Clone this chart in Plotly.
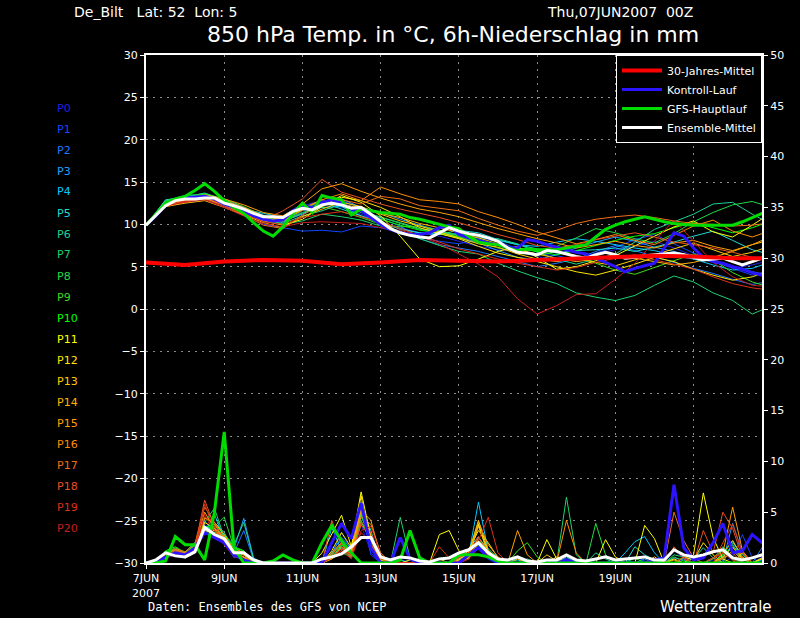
import plotly.graph_objects as go

# forecast hours (7JUN2007 00Z = 0)
hours6 = list(range(0, 385, 6))
hours12 = list(range(0, 385, 12))
hours24 = list(range(0, 385, 24))

tick_hours = [0, 48, 96, 144, 192, 240, 288, 336]
tick_labels = ["7JUN<br>2007", "9JUN", "11JUN", "13JUN", "15JUN", "17JUN", "19JUN", "21JUN"]

member_names = ["P%d" % i for i in range(21)]
member_colors = ["#2020e6", "#1046ff", "#1e78ff", "#1ea0ff", "#00c8ff", "#1edcd2", "#1ed296",
                 "#1ed26e", "#1edc46", "#3cdc1e", "#00ff00", "#ffff00", "#ffe600", "#ffcd00",
                 "#ffb400", "#ffa000", "#ff8c00", "#f06e14", "#e65020", "#dc3219", "#c81e1e"]

# 850 hPa temperature of ensemble members, 12h steps
temp_members = [
    [9.9,12.6,12.9,13.2,12.4,11.5,10.4,10.8,12.2,12.8,12.0,11.2,10.2,9.6,9.0,8.6,8.0,7.4,7.0,6.8,6.2,5.6,5.9,6.5,7.0,7.4,8.0,7.2,6.3,5.6,4.8,5.2,5.8],
    [9.9,12.3,12.6,12.9,12.1,11.0,10.0,9.6,9.2,9.3,9.1,9.8,9.6,9.0,8.5,8.0,7.7,8.3,8.0,7.1,6.5,6.3,5.8,6.6,7.3,8.2,8.8,7.7,6.6,5.8,4.8,4.0,4.6],
    [9.9,12.8,13.1,13.0,12.5,11.6,10.6,10.2,11.6,12.2,12.8,11.9,10.7,9.8,8.3,7.6,7.2,6.8,6.2,5.6,5.0,5.4,5.9,6.8,7.5,6.9,6.2,5.5,4.8,4.2,3.5,2.9,3.3],
    [9.9,12.5,12.7,13.5,12.9,12.0,11.1,10.4,11.2,12.4,13.0,12.0,11.4,10.6,9.9,9.3,8.4,7.8,6.9,6.1,5.8,6.4,7.2,7.9,8.5,8.0,7.3,6.8,6.2,5.5,5.0,4.4,3.9],
    [9.9,12.7,13.3,13.4,12.7,11.9,10.9,10.3,11.3,12.0,12.1,11.0,10.3,9.4,9.0,8.8,8.9,8.6,8.1,7.6,7.4,7.9,8.3,8.0,7.6,7.2,6.9,6.3,5.9,5.2,4.6,4.8,5.6],
    [9.9,12.9,13.2,13.7,12.9,11.8,11.3,10.8,11.9,12.6,11.8,11.0,10.1,9.5,9.0,8.8,9.3,9.0,8.2,7.6,7.1,6.6,6.9,7.0,7.2,6.8,7.3,7.9,8.6,9.2,8.1,7.0,6.4],
    [9.9,12.4,12.9,13.2,12.3,11.3,10.5,10.1,11.0,11.6,12.4,11.6,10.8,10.2,9.5,9.2,8.7,8.4,8.3,7.7,6.7,5.9,5.3,5.9,6.5,7.9,9.4,10.3,11.2,12.4,12.6,11.2,10.0],
    [9.9,12.6,13.0,13.4,12.5,11.5,10.7,10.0,10.4,11.2,10.9,10.5,9.8,9.2,8.3,7.5,6.8,6.5,5.4,4.5,3.7,3.0,1.9,1.4,1.0,1.6,2.8,3.9,3.2,1.9,1.0,-0.6,0.4],
    [9.9,12.8,13.4,13.6,13.0,12.1,11.0,10.6,11.9,12.5,12.3,11.4,10.9,10.1,9.4,8.9,8.4,8.0,7.6,7.2,6.9,7.4,8.4,9.5,9.0,8.3,7.8,8.9,10.3,11.4,12.3,12.7,12.0],
    [9.9,12.5,13.2,13.3,12.6,11.7,10.6,10.3,11.4,12.1,11.5,10.8,10.0,9.7,9.8,9.3,8.6,7.9,7.2,6.7,6.3,6.8,6.2,5.4,4.6,4.1,4.9,5.7,6.5,5.8,4.3,3.2,2.5],
    [9.9,12.6,13.0,13.6,12.9,11.8,10.8,10.4,11.8,12.7,12.2,11.5,10.6,9.9,9.3,9.0,8.5,8.2,7.6,7.1,6.8,6.4,6.9,7.5,8.1,8.6,8.9,9.6,10.2,9.6,9.0,9.6,10.4],
    [9.9,12.2,12.6,13.0,12.3,11.2,10.4,9.9,10.6,12.1,13.4,12.6,11.0,8.6,5.9,5.0,5.1,5.9,6.8,7.4,6.1,4.7,5.0,5.7,6.3,7.5,8.6,9.7,10.4,9.1,8.5,9.9,11.4],
    [9.9,12.4,12.9,13.3,12.6,11.6,10.7,10.4,11.7,12.5,13.2,12.8,12.0,10.9,9.6,8.9,8.3,7.4,6.6,6.1,5.6,5.0,4.4,4.0,4.6,5.3,6.1,5.6,4.7,4.0,3.4,3.8,4.6],
    [9.9,12.1,12.5,12.8,12.0,11.1,10.2,9.6,10.9,11.8,12.6,12.1,11.2,10.4,9.8,9.1,8.4,7.7,7.3,6.5,5.9,5.6,6.0,5.5,5.1,5.8,6.4,7.1,7.8,7.0,6.2,6.7,7.5],
    [9.9,12.3,12.8,13.1,12.4,11.8,10.9,10.6,11.9,12.9,12.4,11.9,11.3,10.8,10.1,9.6,9.0,8.4,7.7,7.0,6.5,6.0,5.6,5.9,6.4,6.0,5.6,5.2,5.5,6.1,6.8,7.6,8.2],
    [9.9,12.2,12.9,13.5,13.0,12.3,11.4,11.0,12.4,14.2,14.8,13.9,13.1,12.4,11.8,11.4,10.9,10.2,9.5,8.9,8.3,7.8,7.2,7.6,8.0,7.5,7.2,7.8,8.1,7.4,6.9,7.6,8.6],
    [9.9,12.4,13.0,13.4,12.8,12.0,11.0,10.6,11.7,12.9,13.6,12.8,14.4,13.6,12.9,12.7,12.4,11.5,10.8,10.0,9.1,8.4,7.7,8.2,8.8,8.1,7.6,8.7,9.8,10.5,9.2,8.5,9.3],
    [9.9,12.1,12.7,13.2,12.2,11.1,9.9,9.5,11.1,12.3,12.9,12.4,13.3,13.0,12.2,11.9,11.6,10.7,9.9,9.2,8.7,9.3,10.1,10.6,10.9,11.1,10.8,10.4,10.1,10.0,9.8,9.9,10.2],
    [9.9,12.3,12.8,13.2,12.4,11.4,10.5,11.6,13.0,15.3,13.8,13.1,12.4,11.8,11.3,10.8,10.2,9.5,8.8,8.2,7.5,7.2,7.6,8.2,8.6,9.0,8.5,7.9,7.6,7.2,6.7,6.1,5.8],
    [9.9,12.5,12.7,13.0,12.1,11.3,10.3,10.0,10.8,11.2,11.5,10.9,10.3,9.5,8.7,7.9,7.1,6.5,5.9,5.4,5.0,4.6,4.9,5.5,6.0,6.4,5.8,5.3,4.7,3.8,3.0,2.5,2.2],
    [9.9,12.2,12.6,12.9,12.0,11.0,10.1,9.7,10.2,10.3,10.2,10.1,9.6,9.3,8.6,7.7,6.5,5.3,3.8,1.2,-0.6,0.4,1.7,1.8,3.5,5.4,8.0,10.5,8.0,5.5,3.8,2.8,2.6],
]

# 6h precipitation of ensemble members (mm), 6h steps
precip_members = [
    [0,0,0.8,1.0,0.6,1.2,3.8,3.0,2.4,0.8,0.6,0, 0,0,0,0,0,0, 0.3,1.5,2.2,0.6,3.8,1.0,0,0, 0.4,0,0,0,0,0, 0.4,1.0,2.0,0.7,0.2,0,0,0, 0,0,0,0.5,0.2,0,0,0, 0,0.4,0,0,0,0,1.2,0.5, 0,0,0.3,1.0,0.3,0,0,0.6,1.5],
    [0,0,0.6,0.9,0.5,1.0,3.2,3.6,2.0,0.5,0.9,0.2, 0,0,0,0,0,0, 0,0.8,3.0,1.2,5.8,0.8,0,0, 0,0.3,0,0,0,0, 0.3,0.8,1.6,0.5,0,0,0,0, 0,0.2,0,0.3,0,0,0,0, 0,0,0.6,0.2,0,0,0,0.4, 0,0,0,0,0.6,2.8,0.5,0,0.4],
    [0,0,0.9,1.1,0.8,1.3,4.2,2.8,2.2,1.0,3.2,0.3, 0,0,0,0,0,0, 0,0.6,1.5,0.8,5.0,2.0,0,0, 0,0,0.5,0,0,0, 0,0.6,1.8,1.2,0.4,0,0,0, 0,0,0.2,0.4,0,0,0,0, 0.3,0,0,0,0,0,0.5,0.3, 0,0,0.5,1.4,0.5,0,0,1.5,2.6],
    [0,0,0.7,1.3,0.9,1.6,3.5,3.4,2.6,1.4,4.4,0.5, 0,0,0,0,0,0, 0,1.0,2.5,1.4,4.5,2.8,0.6,0, 0,0,0,0,0,0, 0.6,1.4,2.6,1.0,0.3,0,0,0, 0,0,0,0,0,0,0,0, 0,0,0,0.4,0,0,0,0, 0.5,0,0,0.2,3.9,1.0,0,0,0.5],
    [0,0,1.0,1.2,0.7,1.4,3.0,4.8,2.3,0.8,0.6,0, 0,0,0,0,0,0, 0,3.5,1.2,0.5,6.0,1.5,0,0, 0,0,0,0,0,0, 0.4,0.8,6.0,1.2,0.3,0,0.5,0, 0,0,0,0,0.2,0,0,0, 0,1.0,2.1,2.6,1.0,0,0,0, 0,0,0,0.4,1.2,0.3,0,0.3,2.0],
    [0,0,0.8,1.0,0.9,1.8,2.8,4.0,3.0,1.2,0.8,0.2, 0,0,0,0,0,0, 0,0.5,1.8,0.8,5.5,3.2,0,0, 0.3,0,0,0,0,0, 0.3,1.2,3.8,0.8,0,0,0.3,0, 0,0,0,0,0,0,0,0, 0,0,1.6,0.8,0.3,0,0,0, 0,0,0,0.6,1.8,0.5,0,0,0.8],
    [0,0,0.9,1.4,1.1,2.0,3.6,3.3,2.8,1.8,4.0,0.4, 0,0,0,0,0,0, 0,0.8,2.0,1.0,4.0,2.4,0,0, 0,0,0,0,0,0, 0,0.6,2.5,1.4,0.5,0,0,0.4, 0,0,0,0.6,0,0,1.0,0.4, 0,0,0,0,0,0,0,0.5, 0.4,1.5,0.5,0,2.0,0.8,0,0,0.6],
    [0,0,1.1,1.3,1.0,1.6,4.0,5.4,2.5,1.0,0.8,0, 0,0,0,0,0,0, 0,0.6,1.4,0.6,5.2,1.6,0,0, 4.5,0.5,0,0,0,0, 0,0.5,1.5,0.6,0,0,0,0, 0,0,0,6.5,0.8,0,0,0, 0,0,0,0,0.3,0,0.8,0.6, 0,0,0,0.8,2.2,0.5,0,0,0],
    [0,0,0.9,1.2,0.8,1.5,3.0,3.6,4.5,1.5,1.2,0.2, 0,0,0,0,0,0, 0,0.4,1.0,0.6,4.8,1.8,0.3,0, 0,0,0,0,0,0, 0.2,0.8,1.8,0.5,0,0,0,0, 0,0,0,0,0,0,3.9,0.8, 0,0,0,0,0,0,0.6,0.2, 0,0,0.4,1.6,0.6,0,0,0,0.8],
    [0,0,1.0,1.5,1.0,1.7,3.4,3.0,2.6,1.5,1.0,0, 0,0,0,0,0,0, 0,0.6,1.6,0.8,4.2,2.0,0,0, 0,0,0,0,0,0, 0,0.5,2.0,1.0,0.4,0,1.2,2.0, 0.6,0,0,0,0,0,0,0, 0,0,0,0,0,0,0,0, 0,0,0.5,1.2,0.3,0,0,0,0],
    [0,0,1.2,1.6,1.0,1.8,3.5,3.8,2.8,1.6,1.2,0, 0,0,0,0,0,0, 0,0.8,1.8,1.0,5.0,2.2,0.5,0, 0,0,0,0,0,0, 0,1.0,2.2,1.3,0.3,0,0,0, 0,0,0,0,0,0,0,0, 0,0,0.5,0,0,0,0,0, 0,0,0,0.8,1.5,0.5,0,0,0.3],
    [0,0,0.7,1.0,0.6,1.2,3.0,3.2,2.0,0.8,0.5,0, 0,0,0,0,0,0, 1.0,2.8,4.7,1.6,7.0,2.6,0,0, 0,0,0,0,2.8,3.2, 1.2,0.4,3.8,1.0,0,0,0,0, 0,2.3,0.4,0,0,0,0,2.3, 0.6,0,0,3.7,2.4,0,0.4,0, 0.8,6.9,2.5,0.4,0,0,0,0.5,1.2],
    [0,0,0.8,1.1,0.7,1.3,4.0,3.4,2.4,1.0,0.5,0, 0,0,0,0,0,0, 0,1.2,3.0,1.5,6.6,1.4,0,0, 0,0.3,0,0,0,0, 0.5,1.2,3.2,2.0,0.5,0,0,0, 0,0,0.6,0,0,0,0,0, 0,0,0,0,0,0,0,0.6, 0.3,2.0,0.8,0,0,1.0,0,0.4,2.5],
    [0,0,0.6,0.9,0.5,1.0,3.2,3.4,2.2,1.0,0.6,0, 0,0,0,0,0,0, 0,1.0,2.0,1.2,5.4,1.8,0.3,0, 0,0,0,0,0.4,0, 0.3,1.0,4.2,1.2,0.4,0,0,0, 0,0.8,0.2,0,0,0,0,0, 0,0,0,0,0.6,0,0,0, 0,0,0,0.6,1.6,0.4,0,0,0.5],
    [0,0,0.7,1.1,0.8,1.4,4.4,4.0,2.8,1.2,0.8,0.2, 0,0,0,0,0,0, 0,0.5,1.6,0.9,5.8,2.6,0,0, 0,0,0,0,0,0, 0.4,1.0,3.6,1.0,0.2,0,0.4,0, 0,0,0,0,0,0,0,0, 0,0,0,0,0,0,0.3,0, 0,0,0.5,1.0,2.2,0.6,0,0,0],
    [0,0,0.8,1.2,0.9,1.7,5.0,3.4,2.6,1.4,1.0,0.2, 0,0,0,0,0,0, 0,0.4,1.2,0.8,5.2,4.2,0.6,0, 0,0,0,0,0,0, 0.2,0.6,4.0,1.8,0.6,0,3.2,0.8, 0,0,0,0,0,0,0,0, 0,0,0,0,0,0,0,0, 0,0,0,1.0,5.5,1.2,0,0,3.4],
    [0,0,0.9,1.3,1.0,1.5,4.5,3.8,2.4,1.2,0.8,0, 0,0,0,0,0,0, 0,0.6,1.4,1.0,4.6,3.8,1.0,0, 0,0,0,0,0,0, 0,0.6,2.5,1.2,0.3,0,0,0, 0,0,0,4.2,1.0,0,0,0, 0,0,0,0,0,0,0,0, 0,0,0,0.5,1.2,0.4,0,0,0.8],
    [0,0,1.0,1.4,1.1,1.9,5.5,4.0,2.2,1.0,0.6,0, 0,0,0,0,0,0, 0,0.8,2.0,0.6,3.8,2.4,0.4,0, 0,0,0,0,0,0, 0,0.4,2.0,0.8,0,0,0,0, 0,0,0,0,0,0,0,0, 0,0,0,0,0,0,5.0,2.2, 0.5,0,0,0.4,1.0,0,0,0,0.6],
    [0,0,0.8,1.2,0.9,1.6,6.2,3.6,2.0,0.8,0.4,0, 0,0,0,0,0,0, 0,4.2,1.6,0.5,4.0,3.0,0,0, 0,0,0,0,0,0, 0.5,1.0,2.6,0.6,0,0,0,0, 0,0,0,0,0,0,0,0, 0,0,0,0,0,0,1.6,0.4, 0,3.2,1.0,5.0,3.4,0.5,0,0,0.5],
    [0,0,0.6,1.0,0.7,1.3,5.8,3.2,2.0,1.2,0.4,0, 0,0,0,0,0,0, 0,0.6,1.4,0.8,3.0,2.0,0,0, 0,0,0,0,1.6,0.5, 0,0.8,2.2,4.5,1.0,0,0,0, 0,0,0,0,0,0,0,0, 0,0,0,0,0,0,0,0.6, 0,0,0,2.0,3.8,1.0,0,0,1.0],
    [0,0,0.5,0.8,0.6,1.0,4.8,2.8,1.8,0.6,0.4,0, 0,0,0,0,0,0, 0,0.5,1.2,0.4,3.2,3.6,0.8,0, 0,0,0,0,0,0, 0,0.4,1.5,0.6,0,0,0,0, 0,0,0,0,0,0,0,0, 0,0,0,0,0,0,0,0, 0,0,0.5,1.0,0.3,0,0,0,0.3],
]

# main runs, 6h steps
temp_kontroll = [9.9,11.0,12.3,12.9,13.1,13.2,13.3,13.0,12.4,12.0,11.6,11.0,10.6,10.4,10.5,11.6,12.2,12.0,12.6,12.9,
                 12.5,11.8,11.6,10.8,10.0,9.4,9.0,8.8,8.8,9.0,9.6,9.9,8.8,8.4,8.1,7.8,7.6,7.3,7.2,8.2,
                 8.0,7.6,7.3,7.0,6.7,6.5,6.0,5.5,5.0,4.4,4.8,5.1,5.4,7.2,9.0,8.6,7.2,6.1,5.6,5.4,
                 5.0,4.7,4.3,4.0,4.0]
temp_gfs = [9.9,11.2,12.5,13.0,13.3,14.0,14.8,13.9,12.8,12.0,11.3,10.2,9.2,8.6,9.7,11.2,12.5,11.4,13.4,13.1,
            12.9,11.1,11.8,11.6,11.4,11.3,11.2,10.8,10.6,10.3,10.0,9.7,9.5,8.6,7.9,7.7,7.6,7.2,6.9,7.1,
            7.0,7.0,7.0,7.2,7.4,7.6,8.5,9.4,9.9,10.3,10.6,10.9,10.6,10.3,10.1,10.0,9.9,9.9,9.9,9.9,
            9.9,10.3,10.8,11.3,11.5]
temp_mean = [9.9,11.0,12.2,12.8,13.0,13.0,13.1,13.1,12.5,12.2,11.8,11.3,10.9,10.9,10.8,11.5,11.9,11.7,12.3,12.5,
             12.3,11.9,12.0,11.2,10.3,9.5,9.0,8.7,8.5,8.4,9.0,9.6,9.2,8.9,8.7,8.4,8.0,7.2,6.7,6.6,
             6.4,6.9,6.8,6.5,6.2,6.0,6.4,6.7,6.4,6.0,6.1,6.3,6.4,6.5,6.6,6.4,6.1,5.8,5.9,6.0,
             5.6,5.2,5.6,6.0,6.2]
temp_clim = [5.5,5.2,5.6,5.8,5.7,5.3,5.5,5.8,5.7,5.6,5.8,6.0,6.2,6.3,6.2,6.0,6.0]

precip_kontroll = [0,0,0.6,1.0,0.8,1.5,3.0,2.5,2.0,0.8,0.3,0, 0,0,0,0,0,0, 0,2.0,3.9,2.4,5.9,1.5,0,0,
                   2.5,0.4,0,0,0,0, 0,0.8,1.5,0.5,0,0,0,0, 0,0,0,0.3,0,0,0,0,
                   0,0,0,0,0.3,0.5,7.7,1.5, 0.3,0.5,2.0,3.9,1.0,1.2,2.8,2.0,1.5]
precip_gfs = [0,0,0.2,2.6,1.8,1.8,0.3,5.0,12.9,1.5,0,0, 0,0.2,0.8,0.3,0,0, 2.0,3.7,2.2,1.0,0,0,0,0,
              0.3,3.2,0.5,0,0,0, 0.8,0.8,0.8,0.6,0.2,0,0,0, 0,0,0,0,0,0,0,0,
              0,0,0,0,0,0,0,0, 0,0,0,0,0,0,0,0,0]
precip_mean = [0,0.3,1.0,0.7,0.6,1.1,3.5,2.8,2.4,1.0,1.0,0.3, 0,0,0,0,0,0, 0.4,0.6,0.9,1.6,2.5,2.5,0.6,0.3,
               0.6,0.5,0.2,0.1,0.4,0.5, 1.0,1.3,2.0,1.0,0.4,0.3,0.6,0.2, 0.1,0.3,0.3,0.8,0.3,0.2,0.4,0.6,
               0.3,0.4,0.5,0.6,0.3,0.3,1.3,0.8, 0.6,0.8,1.1,1.3,0.5,0.3,0.5,0.8,1.1]

fig = go.Figure()

# thin member lines
for name, col, t in zip(member_names, member_colors, temp_members):
    fig.add_trace(go.Scatter(x=hours12, y=t, mode="lines", line=dict(color=col, width=1),
                             showlegend=False, hoverinfo="skip"))
for name, col, p in zip(member_names, member_colors, precip_members):
    fig.add_trace(go.Scatter(x=[6 * i for i in range(len(p))], y=p, yaxis="y2", mode="lines",
                             line=dict(color=col, width=1), showlegend=False, hoverinfo="skip"))

# main runs
main = [
    ("Kontroll-Lauf", "#2d14ff", temp_kontroll, precip_kontroll, 2),
    ("GFS-Hauptlauf", "#00dc00", temp_gfs, precip_gfs, 3),
    ("Ensemble-Mittel", "#ffffff", temp_mean, precip_mean, 4),
]
for name, col, t, p, rank in main:
    fig.add_trace(go.Scatter(x=hours6, y=t, mode="lines", name=name, legendrank=rank,
                             line=dict(color=col, width=3)))
    fig.add_trace(go.Scatter(x=[6 * i for i in range(len(p))], y=p, yaxis="y2", mode="lines",
                             line=dict(color=col, width=3), showlegend=False))

fig.add_trace(go.Scatter(x=hours24, y=temp_clim, mode="lines", name="30-Jahres-Mittel", legendrank=1,
                         line=dict(color="#ff0000", width=4)))

# member labels in the left margin
for k, (name, col) in enumerate(zip(member_names, member_colors)):
    fig.add_annotation(x=-0.148, y=(563 - (108 + 21 * k)) / 508, xref="paper", yref="paper",
                       text=name, showarrow=False, xanchor="left", yanchor="middle",
                       font=dict(color=col, size=11, family="DejaVu Sans"))

txt = dict(showarrow=False, xref="paper", yref="paper", yanchor="middle")
fig.add_annotation(x=-0.12, y=(563 - 12) / 508, text="De_Bilt   Lat: 52  Lon: 5", xanchor="left",
                   font=dict(color="white", size=14, family="DejaVu Sans"), **txt)
fig.add_annotation(x=0.648, y=(563 - 12) / 508, text="Thu,07JUN2007  00Z", xanchor="left",
                   font=dict(color="white", size=14, family="DejaVu Sans"), **txt)
fig.add_annotation(x=0.498, y=(563 - 34) / 508, text="850 hPa Temp. in °C, 6h-Niederschlag in mm",
                   xanchor="center", font=dict(color="white", size=22, family="DejaVu Sans"), **txt)
fig.add_annotation(x=0.0, y=(563 - 607) / 508, text="Daten: Ensembles des GFS von NCEP", xanchor="left",
                   font=dict(color="white", size=12, family="DejaVu Sans Mono"), **txt)
fig.add_annotation(x=1.02, y=(563 - 607) / 508, text="Wetterzentrale", xanchor="right",
                   font=dict(color="white", size=15, family="DejaVu Sans"), **txt)

fig.update_layout(
    width=800, height=618,
    margin=dict(l=146, r=38, t=55, b=55),
    paper_bgcolor="black", plot_bgcolor="black",
    font=dict(color="white", family="DejaVu Sans", size=11),
    xaxis=dict(range=[0, 378], tickvals=tick_hours, ticktext=tick_labels, tickfont=dict(size=11),
               showgrid=True, gridcolor="#8c8c8c", griddash="2px,5px", gridwidth=1,
               showline=True, linecolor="white", linewidth=2, mirror=True,
               ticks="outside", ticklen=4, tickcolor="white", zeroline=False),
    yaxis=dict(range=[-30, 30], dtick=5, showgrid=True, gridcolor="#8c8c8c", griddash="2px,5px",
               gridwidth=1, showline=True, linecolor="white", linewidth=2, mirror=True, zeroline=False,
               ticks="outside", ticklen=4, tickcolor="white", tickfont=dict(size=11)),
    yaxis2=dict(range=[0, 50], dtick=5, overlaying="y", side="right", showgrid=False, zeroline=False,
                showline=True, linecolor="white", linewidth=2,
                ticks="outside", ticklen=4, tickcolor="white", tickfont=dict(size=11)),
    legend=dict(x=1, y=1, xanchor="right", yanchor="top", bgcolor="black", bordercolor="white",
                borderwidth=1, font=dict(color="white", size=11), tracegroupgap=0,
                itemwidth=40),
)

fig.write_html("out.html", config={"displayModeBar": False})

# drop the default page margin so the figure sits at the window corner
with open("out.html", encoding="utf-8") as f:
    page = f.read()
page = page.replace("<head>", "<head><style>body{margin:0;background:black;}</style>", 1)
with open("out.html", "w", encoding="utf-8") as f:
    f.write(page)
